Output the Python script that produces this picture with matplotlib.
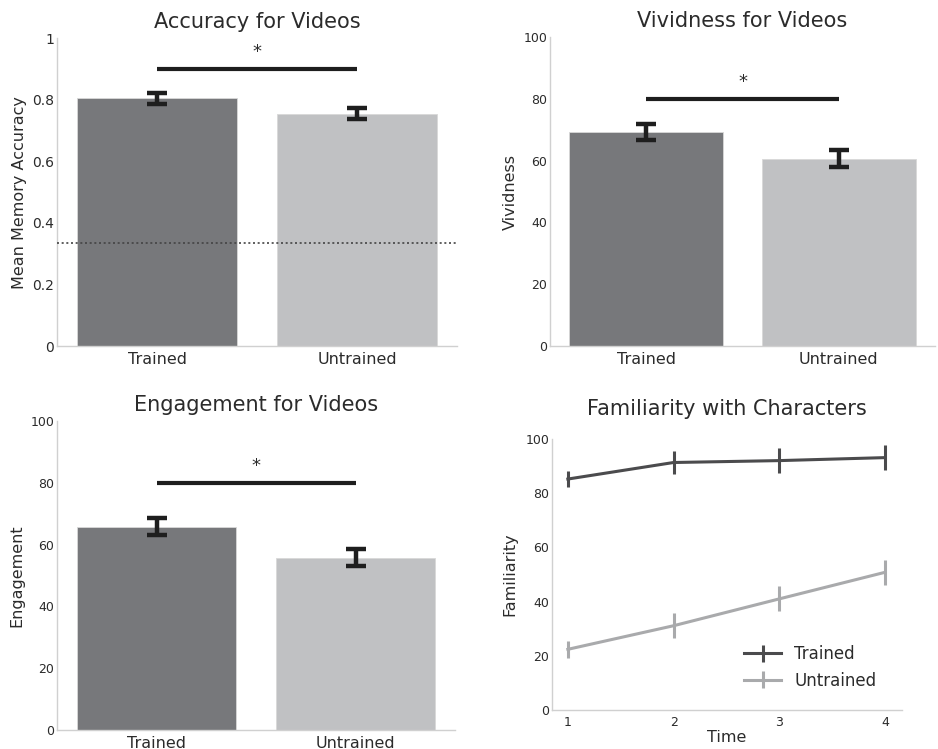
import numpy as np
import matplotlib
matplotlib.use('Agg')
import matplotlib.pyplot as plt

# data
groups = ['Trained', 'Untrained']
accuracy = [0.805, 0.755]
accuracy_err = [0.018, 0.018]
vividness = [69.3, 60.6]
vividness_err = [2.6, 2.7]
engagement = [65.8, 55.8]
engagement_err = [2.8, 2.8]

times = [1, 2, 3, 4]
fam_trained = [85.2, 91.3, 92.0, 93.1]
fam_trained_err = [2.9, 4.4, 4.5, 4.6]
fam_untrained = [22.4, 31.1, 41.0, 50.8]
fam_untrained_err = [3.2, 4.6, 4.6, 4.7]

chance = 1 / 3

# styling
bar_colors = ['#77787b', '#c0c1c3']
line_colors = ['#4b4b4d', '#a9aaac']
spine_color = '#d0d0d0'
text_color = '#2b2b2b'

plt.rcParams['font.family'] = 'DejaVu Sans'
plt.rcParams['text.color'] = text_color
plt.rcParams['axes.labelcolor'] = text_color
plt.rcParams['xtick.color'] = text_color
plt.rcParams['ytick.color'] = text_color

fig = plt.figure(figsize=(9.38, 7.49), dpi=100)


def clean(ax, ytick_size):
    for side in ['top', 'right']:
        ax.spines[side].set_visible(False)
    for side in ['left', 'bottom']:
        ax.spines[side].set_color(spine_color)
        ax.spines[side].set_linewidth(1.0)
    ax.tick_params(axis='both', length=0)
    ax.tick_params(axis='y', labelsize=ytick_size, pad=2)


def bar_panel(rect, values, errs, title, ylabel, ylim, yticks, yticklabels,
              sig_y, star_y, ytick_size):
    ax = fig.add_axes(rect)
    x = np.arange(len(groups))
    ax.bar(x, values, width=0.8, color=bar_colors, edgecolor='#d8d8d8',
           linewidth=0.6, zorder=2)
    ax.errorbar(x, values, yerr=errs, fmt='none', ecolor='#1e1e1e',
                elinewidth=3.2, capsize=7, capthick=3.2, zorder=3)
    ax.plot([x[0], x[1]], [sig_y, sig_y], color='#1e1e1e', lw=3,
            solid_capstyle='butt', zorder=3)
    ax.text((x[0] + x[1]) / 2, star_y, '*', ha='center', va='center',
            fontsize=13)
    ax.set_xlim(-0.5, 1.5)
    ax.set_ylim(*ylim)
    ax.set_yticks(yticks)
    ax.set_yticklabels(yticklabels)
    ax.set_xticks(x)
    ax.set_xticklabels(groups, fontsize=11.5)
    ax.tick_params(axis='x', pad=4)
    ax.set_title(title, fontsize=15, pad=7)
    ax.set_ylabel(ylabel, fontsize=11.5, labelpad=4)
    clean(ax, ytick_size)
    return ax


# top left: accuracy
ax1 = bar_panel([0.0608, 0.538, 0.4265, 0.411], accuracy, accuracy_err,
                'Accuracy for Videos', 'Mean Memory Accuracy', (0, 1),
                [0, 0.2, 0.4, 0.6, 0.8, 1],
                ['0', '0.2', '0.4', '0.6', '0.8', '1'], 0.9, 0.955, 10)
ax1.axhline(chance, color='#444444', lw=1.2, ls=(0, (1.2, 1.6)), zorder=4)

# top right: vividness
bar_panel([0.5863, 0.538, 0.4105, 0.4125], vividness, vividness_err,
          'Vividness for Videos', 'Vividness', (0, 100),
          [0, 20, 40, 60, 80, 100], ['0', '20', '40', '60', '80', '100'],
          80, 85.5, 9)

# bottom left: engagement
bar_panel([0.0608, 0.0254, 0.4243, 0.4126], engagement, engagement_err,
          'Engagement for Videos', 'Engagement', (0, 100),
          [0, 20, 40, 60, 80, 100], ['0', '20', '40', '60', '80', '100'],
          80, 85.5, 9)

# bottom right: familiarity over time
ax4 = fig.add_axes([0.5885, 0.052, 0.373, 0.362])
ax4.errorbar(times, fam_trained, yerr=fam_trained_err, color=line_colors[0],
             lw=2.2, elinewidth=2.2, capsize=0, label='Trained')
ax4.errorbar(times, fam_untrained, yerr=fam_untrained_err,
             color=line_colors[1], lw=2.2, elinewidth=2.2, capsize=0,
             label='Untrained')
ax4.set_xlim(0.85, 4.16)
ax4.set_ylim(0, 100)
ax4.set_xticks(times)
ax4.set_xticklabels([str(t) for t in times], fontsize=9)
ax4.set_yticks([0, 20, 40, 60, 80, 100])
ax4.tick_params(axis='x', pad=4)
ax4.set_title('Familiarity with Characters', fontsize=15, pad=17)
ax4.set_ylabel('Familiarity', fontsize=11.5, labelpad=6)
ax4.set_xlabel('Time', fontsize=11.5, labelpad=1)
clean(ax4, 9)
ax4.legend(loc='lower right', frameon=False, fontsize=12, handlelength=2.2,
           bbox_to_anchor=(0.97, 0.02))

fig.savefig('out.png', dpi=100)
